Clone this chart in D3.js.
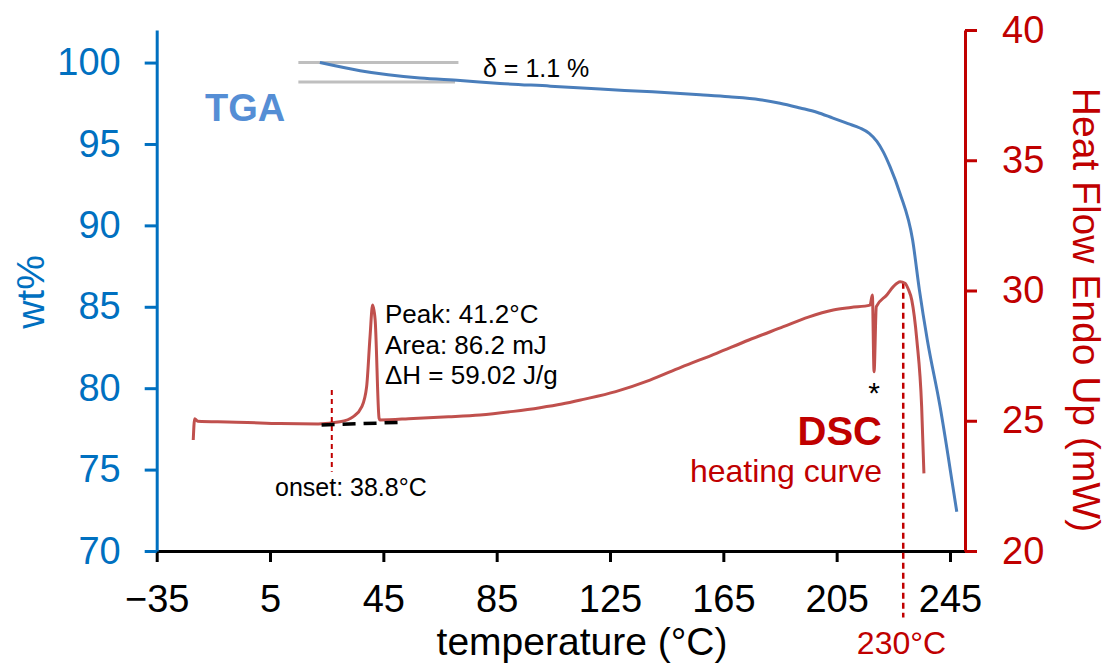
<!DOCTYPE html>
<html>
<head>
<meta charset="utf-8">
<script src="https://cdn.jsdelivr.net/npm/d3@7"></script>
<style>
  html, body { margin: 0; padding: 0; background: #fff; }
  svg { display: block; font-family: "Liberation Sans", Arial, sans-serif; }
</style>
</head>
<body>
<svg id="chart" width="1111" height="666"></svg>
<script>
// ---------- data ----------
const tempTicks = [-35, 5, 45, 85, 125, 165, 205, 245];
const wtTicks = [70, 75, 80, 85, 90, 95, 100];
const hfTicks = [20, 25, 30, 35, 40];

// TGA: temperature °C / wt%
const tgaTemp = [22.6, 36.8, 57.9, 72.1, 86.2, 104.0, 121.5, 140.0, 156.8, 167.0, 177.9, 185.0, 192.1, 198.0, 203.7, 209.0, 213.2, 216.5, 219.2, 221.5, 223.8, 227.3, 231.8, 234.2, 237.0, 241.5, 246.2, 247.4];
const tgaWt   = [100.0, 99.5, 99.05, 98.9, 98.72, 98.55, 98.37, 98.2, 98.02, 97.9, 97.72, 97.5, 97.21, 96.95, 96.59, 96.25, 95.98, 95.65, 95.16, 94.5, 93.62, 91.99, 89.11, 86.04, 82.96, 78.87, 73.75, 72.41];

// DSC: temperature °C / heat flow mW
const dscTemp = [-22.1, -21.6, -20.5, -10, -3, 8.5, 22, 29.7, 34.4, 37.4, 39.1, 40.3, 41.2, 42.1, 43.5, 43.8, 55.6, 68.0, 79.1, 90.9, 100.3, 108.0, 115.6, 127.0, 139.1, 150.0, 162.6, 174.0, 186.2, 195.0, 203.8, 210.0, 216.8, 217.6, 218.2, 219.0, 222.7, 225.0, 227.4, 229.1, 230.3, 231.5, 233.3, 235.0, 235.8];
const dscHF   = [24.26, 25.08, 24.98, 24.95, 24.93, 24.89, 24.88, 24.96, 25.16, 25.54, 26.31, 28.23, 29.44, 28.87, 25.09, 25.03, 25.09, 25.15, 25.22, 25.36, 25.5, 25.64, 25.82, 26.12, 26.56, 27.05, 27.59, 28.1, 28.61, 28.98, 29.25, 29.35, 29.44, 29.83, 26.88, 29.38, 29.83, 30.15, 30.34, 30.28, 30.05, 29.64, 28.1, 25.54, 22.98];

// annotation values
const onsetT = 26.8, onsetHF = [26.18, 23.04];
const baseT = [23.2, 51.5], baseHF = [24.84, 24.94];
const peak230T = 228.5, peak230HF = [30.3, 17.45];
const deltaT = [[15.0, 71.5], [15.0, 70.3]], deltaWt = [100.0, 98.8];

// ---------- layout ----------
const svg = d3.select("#chart");
const W = 1111, H = 666;
svg.append("rect").attr("width", W).attr("height", H).attr("fill", "#fff");

const x = d3.scaleLinear().domain([-35, 250.3]).range([156.7, 965]);
const yL = d3.scaleLinear().domain([70, 102]).range([551, 30]);
const yR = d3.scaleLinear().domain([20, 40]).range([551, 30]);

const BLUE = "#0070C0", RED = "#C00000";
const TGA_C = "#4A7EBB", DSC_C = "#C0504D";
const FF = "Liberation Sans, Arial, sans-serif";

// ---------- axes ----------
const gx = svg.append("g").attr("transform", "translate(0,551)")
  .call(d3.axisBottom(x).tickValues(tempTicks).tickSize(11).tickSizeOuter(0).tickPadding(23).tickFormat(d3.format("d")));
gx.select(".domain").attr("stroke", "#000").attr("stroke-width", 3);
gx.selectAll(".tick line").attr("stroke", "#000").attr("stroke-width", 3);
gx.selectAll(".tick text").attr("fill", "#000").attr("font-size", 38).attr("font-family", FF);

const gl = svg.append("g").attr("transform", "translate(156.7,0)")
  .call(d3.axisLeft(yL).tickValues(wtTicks).tickSize(12).tickSizeOuter(0).tickPadding(24));
gl.select(".domain").attr("stroke", BLUE).attr("stroke-width", 3);
gl.selectAll(".tick line").attr("stroke", BLUE).attr("stroke-width", 3);
gl.selectAll(".tick text").attr("fill", BLUE).attr("font-size", 38).attr("font-family", FF);

const gr = svg.append("g").attr("transform", "translate(965,0)")
  .call(d3.axisRight(yR).tickValues(hfTicks).tickSize(12).tickSizeOuter(0).tickPadding(25));
gr.select(".domain").attr("stroke", RED).attr("stroke-width", 3);
gr.selectAll(".tick line").attr("stroke", RED).attr("stroke-width", 3);
gr.selectAll(".tick text").attr("fill", RED).attr("font-size", 38).attr("font-family", FF);

// axis titles
svg.append("text").attr("x", 582).attr("y", 655).attr("text-anchor", "middle")
  .attr("font-size", 39).attr("fill", "#000").text("temperature (°C)");
svg.append("text").attr("transform", "translate(44,292) rotate(-90)").attr("text-anchor", "middle")
  .attr("font-size", 39).attr("fill", BLUE).text("wt%");
svg.append("text").attr("transform", "translate(1073,310) rotate(90)").attr("text-anchor", "middle")
  .attr("font-size", 39).attr("fill", RED).text("Heat Flow Endo Up (mW)");

// ---------- annotation lines (under curves) ----------
deltaT.forEach((tt, i) => {
  svg.append("line")
    .attr("x1", x(tt[0])).attr("x2", x(tt[1]))
    .attr("y1", yL(deltaWt[i])).attr("y2", yL(deltaWt[i]))
    .attr("stroke", "#BFBFBF").attr("stroke-width", 3);
});

svg.append("line")
  .attr("x1", x(peak230T)).attr("x2", x(peak230T))
  .attr("y1", yR(peak230HF[0])).attr("y2", yR(peak230HF[1]))
  .attr("stroke", RED).attr("stroke-width", 2.5).attr("stroke-dasharray", "6,4");

// ---------- curves ----------
const tga = tgaTemp.map((t, i) => [t, tgaWt[i]]);
const dsc = dscTemp.map((t, i) => [t, dscHF[i]]);

svg.append("path").datum(tga)
  .attr("d", d3.line().x(d => x(d[0])).y(d => yL(d[1])).curve(d3.curveMonotoneX))
  .attr("fill", "none").attr("stroke", TGA_C).attr("stroke-width", 3);

svg.append("path").datum(dsc)
  .attr("d", d3.line().x(d => x(d[0])).y(d => yR(d[1])).curve(d3.curveMonotoneX))
  .attr("fill", "none").attr("stroke", DSC_C).attr("stroke-width", 3).attr("stroke-linejoin", "round");

svg.append("line")
  .attr("x1", x(onsetT)).attr("x2", x(onsetT))
  .attr("y1", yR(onsetHF[0])).attr("y2", yR(onsetHF[1]))
  .attr("stroke", RED).attr("stroke-width", 2).attr("stroke-dasharray", "5,4");

svg.append("line")
  .attr("x1", x(baseT[0])).attr("x2", x(baseT[1]))
  .attr("y1", yR(baseHF[0])).attr("y2", yR(baseHF[1]))
  .attr("stroke", "#000").attr("stroke-width", 3.5).attr("stroke-dasharray", "13,8");

// ---------- texts ----------
svg.append("text").attr("x", 205).attr("y", 121).attr("font-size", 38).attr("font-weight", "bold")
  .attr("fill", "#558ED5").text("TGA");
svg.append("text").attr("x", 483).attr("y", 77).attr("font-size", 25).attr("fill", "#000").text("δ = 1.1 %");

const peakLines = ["Peak: 41.2°C", "Area: 86.2 mJ", "ΔH = 59.02 J/g"];
peakLines.forEach((s, i) => {
  svg.append("text").attr("x", 385).attr("y", 323 + i * 30.5).attr("font-size", 26).attr("fill", "#000").text(s);
});
svg.append("text").attr("x", 275).attr("y", 496).attr("font-size", 25).attr("fill", "#000").text("onset: 38.8°C");
svg.append("text").attr("x", 874).attr("y", 403).attr("text-anchor", "middle").attr("font-size", 30).attr("fill", "#000").text("*");

svg.append("text").attr("x", 882).attr("y", 445).attr("text-anchor", "end").attr("font-size", 40).attr("font-weight", "bold")
  .attr("fill", RED).text("DSC");
svg.append("text").attr("x", 882).attr("y", 482).attr("text-anchor", "end").attr("font-size", 32)
  .attr("fill", RED).text("heating curve");
svg.append("text").attr("x", 901.5).attr("y", 654).attr("text-anchor", "middle").attr("font-size", 32)
  .attr("fill", RED).text("230°C");
</script>
</body>
</html>
